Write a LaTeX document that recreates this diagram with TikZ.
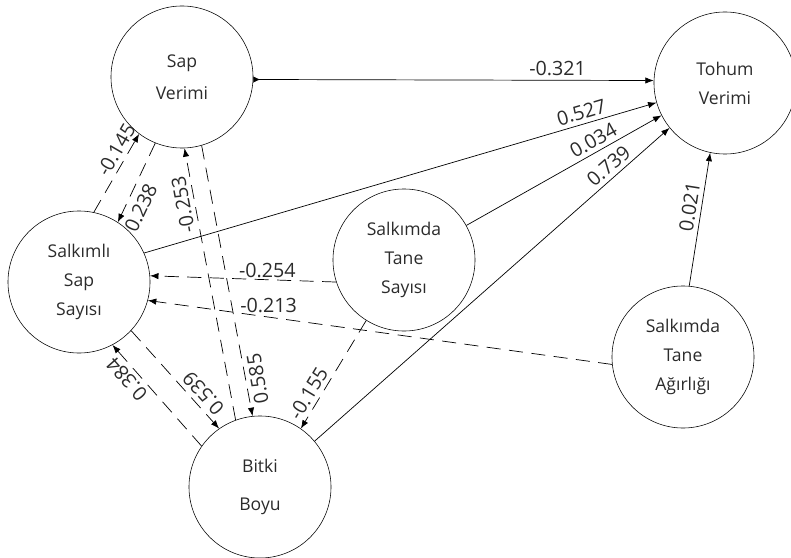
\documentclass[tikz,border=0pt]{standalone}
\usepackage{fontspec}
\setmainfont{Open Sans}
\usepackage{tikz}
\usetikzlibrary{arrows.meta}
\definecolor{ink}{HTML}{2B2B2B}

\begin{document}
\begin{tikzpicture}[x=0.025cm, y=-0.025cm,
	var/.style={shape=circle, draw=black, minimum size=3.55cm, inner sep=0pt, align=center, text=ink, font=\fontsize{12.5}{20.5}\selectfont},
	drct/.style={-{Latex[length=6pt,width=4.5pt]}, line width=0.5pt},
	indr/.style={drct, dash pattern=on 10pt off 6pt},
	val/.style={text=ink, inner sep=3pt, font=\fontsize{14}{16}\selectfont}]
	\useasboundingbox (0,0) rectangle (791,558);

	\node[var] (sap)   at (182, 77)  {Sap\\[2pt]Verimi};
	\node[var] (tohum) at (725, 83)  {Tohum\\Verimi};
	\node[var] (salk)  at (79, 282)  {Salkımlı\\Sap\\Sayısı};
	\node[var] (ssay)  at (404, 260) {Salkımda\\Tane\\Sayısı};
	\node[var] (agir)  at (683, 357) {Salkımda\\Tane\\Ağırlığı};
	\node[var] (boy)   at (260, 487) {Bitki\\[6pt]Boyu};

	\path[drct, {Latex[reversed,length=5pt,width=4.5pt]}-{Latex[length=6pt,width=4.5pt]}] (sap.-2) edge node[val, above, pos=0.76] {-0.321} (tohum.178);
	\path[drct] (salk.24) edge node[val, sloped, above, pos=0.86] {0.527} (tohum.196);
	\path[drct] (ssay.29) edge node[val, sloped, above, pos=0.68] {0.034} (tohum.207);
	\path[drct] (boy.40) edge node[val, sloped, above, pos=0.85] {0.739} (tohum.219);
	\path[drct] (agir.85) edge node[val, sloped, above, pos=0.58] {0.021} (tohum.258);

	\path[indr] (salk.78) edge node[val, sloped, above, pos=0.72] {-0.145} (sap.233);
	\path[indr] (sap.248) edge node[val, sloped, below, pos=0.74, inner sep=5pt] {0.238} (salk.57);
	\path[indr] (boy.110) edge node[val, sloped, allow upside down, above, pos=0.8] {-0.253} (sap.272);
	\path[indr] (sap.286) edge node[val, rotate=100, below, pos=0.87] {0.585} (boy.96);
	\path[indr] (ssay.198) edge node[val, above, pos=0.37, inner sep=1pt] {-0.254} (salk.5);
	\path[indr] (agir.186) edge node[val, above, pos=0.74] {-0.213} (salk.-15);
	\path[indr] (salk.-43) edge node[val, rotate=132, below, pos=0.72] {0.539} (boy.125);
	\path[indr] (boy.145) edge node[val, sloped, allow upside down, above, pos=0.74] {0.384} (salk.-62);
	\path[indr] (ssay.238) edge node[val, sloped, above, pos=0.73] {-0.155} (boy.55);

\end{tikzpicture}
\end{document}
